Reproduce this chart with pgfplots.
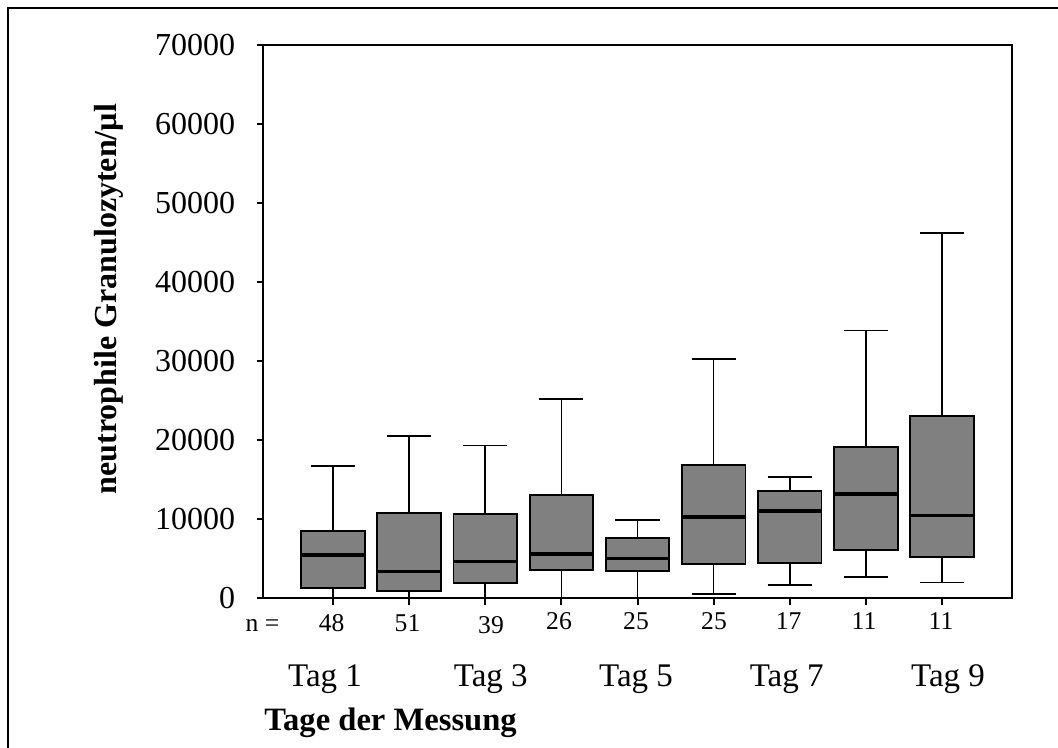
\documentclass[border=0pt]{standalone}
\usepackage{fontspec}
\setmainfont{Liberation Serif}
\usepackage{pgfplots}
\pgfplotsset{compat=1.18}
\usepgfplotslibrary{statistics}
\begin{document}
\begin{tikzpicture}
\useasboundingbox (0,0) rectangle (529pt,374pt);
\draw[line width=1.3pt] (4pt,-5pt) -- (4pt,370pt) -- (540pt,370pt);
% values in thousands of cells per microlitre
\begin{axis}[
  at={(131.5pt,74.85pt)}, anchor=south west,
  scale only axis, width=374.5pt, height=276.65pt,
  xmin=0.08, xmax=9.92, ymin=0, ymax=70,
  ytick={0,10,20,30,40,50,60,70},
  yticklabels={0,10000,20000,30000,40000,50000,60000,70000},
  xtick={1,2,3,4,5,6,7,8,9}, xticklabels={},
  tick align=outside, tick pos=left,
  major tick length=3.2pt,
  tick style={line width=1pt, black},
  yticklabel style={font=\fontsize{16}{19}\selectfont, inner sep=0pt, xshift=-10.5pt},
  axis line style={line width=1pt},
  boxplot/draw direction=y,
  boxplot/box extend=0.835,
  boxplot/whisker extend=0.58,
  boxplot/every box/.style={line width=0.9pt},
  boxplot/every median/.style={line width=1.8pt},
  boxplot/every whisker/.style={line width=0.8pt},
]
\addplot[draw=black, fill=gray, boxplot prepared={draw position=1, lower whisker=0, lower quartile=1.27, median=5.48, upper quartile=8.55, upper whisker=16.74}] coordinates {};
\addplot[draw=black, fill=gray, boxplot prepared={draw position=2, lower whisker=0, lower quartile=0.96, median=3.37, upper quartile=10.79, upper whisker=20.57}] coordinates {};
\addplot[draw=black, fill=gray, boxplot prepared={draw position=3, lower whisker=0, lower quartile=1.94, median=4.68, upper quartile=10.67, upper whisker=19.31}] coordinates {};
\addplot[draw=black, fill=gray, boxplot prepared={draw position=4, lower whisker=0, lower quartile=3.58, median=5.60, upper quartile=13.07, upper whisker=25.20}] coordinates {};
\addplot[draw=black, fill=gray, boxplot prepared={draw position=5, lower whisker=0, lower quartile=3.42, median=5.01, upper quartile=7.67, upper whisker=9.94}] coordinates {};
\addplot[draw=black, fill=gray, boxplot prepared={draw position=6, lower whisker=0.54, lower quartile=4.30, median=10.32, upper quartile=16.90, upper whisker=30.24}] coordinates {};
\addplot[draw=black, fill=gray, boxplot prepared={draw position=7, lower whisker=1.72, lower quartile=4.43, median=11.08, upper quartile=13.54, upper whisker=15.35}] coordinates {};
\addplot[draw=black, fill=gray, boxplot prepared={draw position=8, lower whisker=2.66, lower quartile=6.11, median=13.20, upper quartile=19.18, upper whisker=33.86}] coordinates {};
\addplot[draw=black, fill=gray, boxplot prepared={draw position=9, lower whisker=2.02, lower quartile=5.26, median=10.45, upper quartile=23.06, upper whisker=46.18}] coordinates {};
\end{axis}
\begin{scope}[every node/.style={anchor=base, inner sep=0pt, font=\fontsize{12.8}{15}\selectfont}]
\node at (131.25pt,58.15pt) {n =};
\node at (165.85pt,58.15pt) {48};
\node at (203.75pt,58.15pt) {51};
\node at (245.5pt,57pt) {39};
\node at (279.5pt,59pt) {26};
\node at (318pt,59pt) {25};
\node at (357pt,59pt) {25};
\node at (394.35pt,59pt) {17};
\node at (432pt,59pt) {11};
\node at (470.5pt,59pt) {11};
\end{scope}
\begin{scope}[every node/.style={anchor=base, inner sep=0pt, font=\fontsize{16.5}{19}\selectfont}]
\node at (162.5pt,30.5pt) {Tag 1};
\node at (245.4pt,30.5pt) {Tag 3};
\node at (318pt,30.5pt) {Tag 5};
\node at (393.35pt,30.5pt) {Tag 7};
\node at (474pt,30.5pt) {Tag 9};
\end{scope}
\node[anchor=base west, inner sep=0pt, font=\fontsize{16.3}{19}\selectfont\bfseries] at (132pt,9pt) {Tage der Messung};
\node[rotate=90, anchor=base, inner sep=0pt, font=\fontsize{16}{19}\selectfont\bfseries] at (58pt,224.5pt) {neutrophile Granulozyten/µl};
\end{tikzpicture}
\end{document}
